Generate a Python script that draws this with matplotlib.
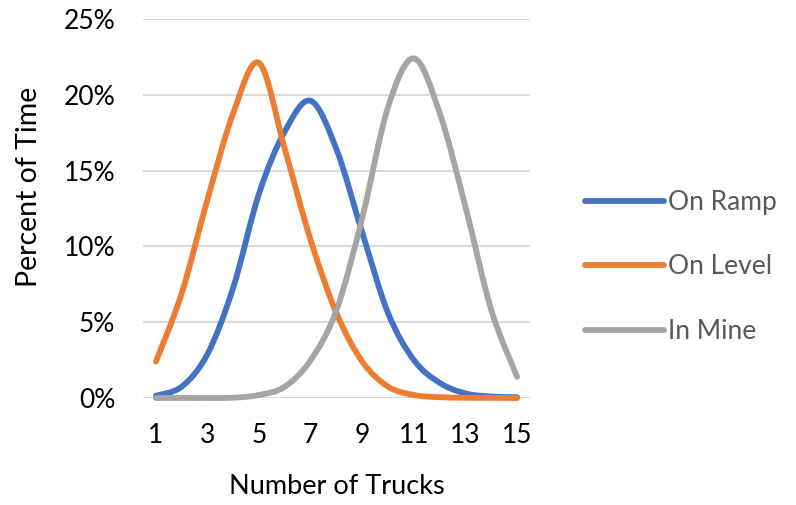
import numpy as np
import matplotlib
matplotlib.use('Agg')
import matplotlib.pyplot as plt
from matplotlib.path import Path
from matplotlib.patches import PathPatch
from matplotlib.lines import Line2D
from matplotlib.ticker import PercentFormatter

plt.rcParams['font.family'] = ['Lato', 'DejaVu Sans']

# data (percent of time)
trucks = np.arange(1, 16)
on_ramp = [0.15, 0.75, 2.9, 7.3, 13.5, 17.6, 19.6, 16.4, 10.9, 5.6, 2.5, 1.0, 0.3, 0.1, 0.05]
on_level = [2.4, 6.9, 13.1, 18.8, 22.1, 16.4, 10.4, 5.6, 2.4, 0.75, 0.2, 0.05, 0.02, 0.01, 0.0]
in_mine = [0.0, 0.0, 0.0, 0.02, 0.2, 0.75, 2.5, 5.8, 11.9, 19.2, 22.4, 18.8, 12.6, 5.8, 1.4]

series = [('On Ramp', on_ramp, '#4472C4'),
          ('On Level', on_level, '#ED7D31'),
          ('In Mine', in_mine, '#A5A5A5')]


def smooth_path(x, y):
    # excel style smoothed line, catmull-rom segments drawn as cubic beziers
    p = np.column_stack([x, y]).astype(float)
    ext = np.vstack([p[0], p, p[-1]])
    verts = [p[0]]
    codes = [Path.MOVETO]
    for i in range(len(p) - 1):
        p0, p1, p2, p3 = ext[i], ext[i + 1], ext[i + 2], ext[i + 3]
        verts += [p1 + (p2 - p0) / 6, p2 - (p3 - p1) / 6, p2]
        codes += [Path.CURVE4] * 3
    return Path(verts, codes)


fig = plt.figure(figsize=(7.96, 5.05), dpi=100)
ax = fig.add_axes([143 / 796, 1 - 398 / 505, 387 / 796, 379 / 505])

handles = []
for name, vals, col in series:
    patch = PathPatch(smooth_path(trucks, vals), fill=False, edgecolor=col,
                      lw=4.2, capstyle='round', joinstyle='round', clip_on=False)
    ax.add_patch(patch)
    handles.append(Line2D([], [], color=col, lw=4.2, solid_capstyle='round', label=name))

ax.set_xlim(0.5, 15.5)
ax.set_ylim(0, 25)
ax.set_xticks(trucks[::2])
ax.set_yticks(range(0, 26, 5))
ax.yaxis.set_major_formatter(PercentFormatter(decimals=0))
ax.yaxis.grid(True, color='#D9D9D9', lw=1.4)
ax.set_axisbelow(True)
for s in ax.spines.values():
    s.set_visible(False)
ax.tick_params(axis='y', length=0, pad=20, labelsize=19)
ax.tick_params(axis='x', length=0, pad=18, labelsize=19)

fig.text(29 / 796, 1 - 187 / 505, 'Percent of Time', rotation=90,
         ha='center', va='center', fontsize=20.5)
fig.text(337 / 796, 1 - 486 / 505, 'Number of Trucks', ha='center', va='center', fontsize=19.5)

fig.legend(handles=handles, loc='center left', bbox_to_anchor=(585 / 796, 1 - 267 / 505),
           frameon=False, fontsize=19, handlelength=3.0, handletextpad=0.15,
           labelspacing=1.5, borderpad=0, borderaxespad=0, labelcolor='#595959')

fig.savefig('out.png', dpi=100)
